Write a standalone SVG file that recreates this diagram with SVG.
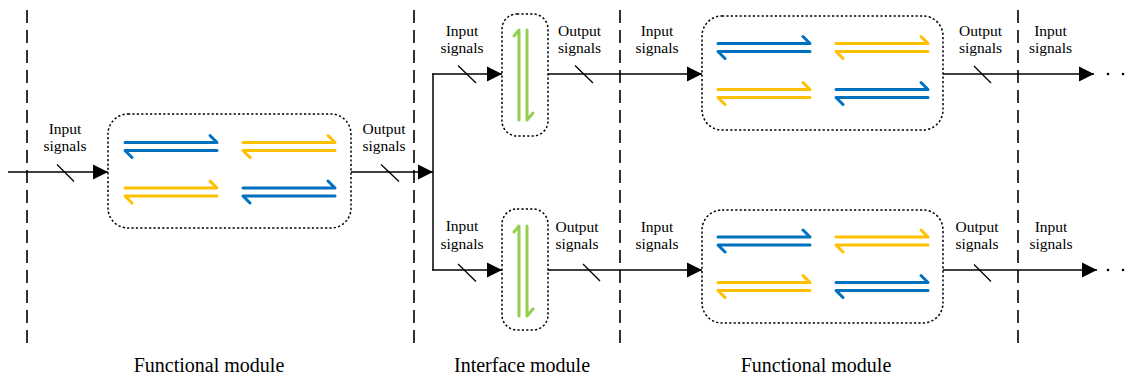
<svg xmlns="http://www.w3.org/2000/svg" xmlns:xlink="http://www.w3.org/1999/xlink" width="1127" height="377" viewBox="0 0 1127 377">
<style>
.bg{fill:#fff}
.div{stroke:#000;stroke-width:1.6;stroke-dasharray:13 7;fill:none}
.box{fill:none;stroke:#000;stroke-width:1.5;stroke-dasharray:2.2 2.2}
.ln{stroke:#000;stroke-width:1.5;fill:none}
.sl{stroke:#000;stroke-width:1.3}
.hp{fill:none;stroke-width:3;stroke-linecap:round;stroke-linejoin:round}
.blue{stroke:#0070C0}
.yel{stroke:#FFC000}
.grn{stroke:#92D050}
.lbl{font-family:"Liberation Serif","Times New Roman",serif;font-size:15.5px;fill:#000;text-anchor:middle}
.mod{font-family:"Liberation Serif","Times New Roman",serif;font-size:20px;fill:#000;text-anchor:middle}
</style>
<defs>
<marker id="ah" markerUnits="userSpaceOnUse" viewBox="0 0 16 16" markerWidth="16" markerHeight="16" refX="15" refY="8" orient="auto">
<path d="M0,0.5 L15,8 L0,15.5 z" fill="#000"/>
</marker>
<path id="eq" d="M0,0 H92 L85,-7 M92,8 H0 L7,15"/>
<path id="veq" d="M0,90 V0 L-5,6 M8,0 V90 L14,83"/>
</defs>
<rect class="bg" x="0" y="0" width="1127" height="377"/>

<g id="dividers">
<line class="div" x1="27" y1="10" x2="27" y2="345"/>
<line class="div" x1="414" y1="10" x2="414" y2="345"/>
<line class="div" x1="620" y1="10" x2="620" y2="345"/>
<line class="div" x1="1018" y1="10" x2="1018" y2="345"/>
</g>

<g id="func-left">
<rect class="box" x="108" y="114" width="243" height="114" rx="20"/>
<use xlink:href="#eq" class="hp blue" x="125" y="142.5"/>
<use xlink:href="#eq" class="hp yel" x="243" y="142.5"/>
<use xlink:href="#eq" class="hp yel" x="125" y="188"/>
<use xlink:href="#eq" class="hp blue" x="243" y="188"/>
</g>

<g id="iface-top">
<rect class="box" x="502" y="14" width="46" height="122" rx="15"/>
<use xlink:href="#veq" class="hp grn" x="519" y="30"/>
</g>

<g id="iface-bottom">
<rect class="box" x="502" y="209" width="46" height="121" rx="15"/>
<use xlink:href="#veq" class="hp grn" x="519" y="226"/>
</g>

<g id="func-top-right">
<rect class="box" x="702" y="16" width="241" height="114" rx="20"/>
<use xlink:href="#eq" class="hp blue" x="718" y="43.5"/>
<use xlink:href="#eq" class="hp yel" x="836" y="43.5"/>
<use xlink:href="#eq" class="hp yel" x="718" y="89.5"/>
<use xlink:href="#eq" class="hp blue" x="836" y="89.5"/>
</g>

<g id="func-bottom-right">
<rect class="box" x="702" y="210" width="241" height="113" rx="20"/>
<use xlink:href="#eq" class="hp blue" x="718" y="237"/>
<use xlink:href="#eq" class="hp yel" x="836" y="237"/>
<use xlink:href="#eq" class="hp yel" x="718" y="282.5"/>
<use xlink:href="#eq" class="hp blue" x="836" y="282.5"/>
</g>

<g id="connectors">
<line class="ln" x1="8" y1="172" x2="108" y2="172" marker-end="url(#ah)"/>
<line class="ln" x1="351" y1="172" x2="433" y2="172" marker-end="url(#ah)"/>
<line class="ln" x1="433" y1="73.3" x2="433" y2="270.7"/>
<line class="ln" x1="432.3" y1="74" x2="502" y2="74" marker-end="url(#ah)"/>
<line class="ln" x1="432.3" y1="270" x2="502" y2="270" marker-end="url(#ah)"/>
<line class="ln" x1="548" y1="74" x2="702" y2="74" marker-end="url(#ah)"/>
<line class="ln" x1="548" y1="270" x2="702" y2="270" marker-end="url(#ah)"/>
<line class="ln" x1="943" y1="74" x2="1094" y2="74" marker-end="url(#ah)"/>
<line class="ln" x1="943" y1="270" x2="1097" y2="270" marker-end="url(#ah)"/>
<line class="sl" x1="57" y1="164.5" x2="74" y2="181.5"/>
<line class="sl" x1="381" y1="164.5" x2="399" y2="181.5"/>
<line class="sl" x1="458" y1="65.5" x2="476" y2="83"/>
<line class="sl" x1="575" y1="65.5" x2="593" y2="83"/>
<line class="sl" x1="974" y1="66" x2="991" y2="83"/>
<line class="sl" x1="458" y1="264" x2="476" y2="281.5"/>
<line class="sl" x1="583" y1="264" x2="600" y2="281"/>
<line class="sl" x1="974" y1="264.5" x2="991" y2="281.5"/>
<circle cx="1108" cy="74" r="1.3" fill="#000"/>
<circle cx="1123" cy="74" r="1.3" fill="#000"/>
<circle cx="1108" cy="270" r="1.3" fill="#000"/>
<circle cx="1123" cy="270" r="1.3" fill="#000"/>
</g>

<g id="labels">
<text class="lbl" x="65" y="134">Input</text>
<text class="lbl" x="65" y="151">signals</text>
<text class="lbl" x="384" y="134">Output</text>
<text class="lbl" x="384" y="151">signals</text>
<text class="lbl" x="462" y="36">Input</text>
<text class="lbl" x="462" y="53">signals</text>
<text class="lbl" x="579.5" y="36">Output</text>
<text class="lbl" x="579.5" y="53">signals</text>
<text class="lbl" x="657" y="36">Input</text>
<text class="lbl" x="657" y="53">signals</text>
<text class="lbl" x="980.5" y="36">Output</text>
<text class="lbl" x="980.5" y="53">signals</text>
<text class="lbl" x="1050.5" y="36">Input</text>
<text class="lbl" x="1050.5" y="53">signals</text>
<text class="lbl" x="462" y="231">Input</text>
<text class="lbl" x="462" y="249">signals</text>
<text class="lbl" x="577" y="232">Output</text>
<text class="lbl" x="577" y="249">signals</text>
<text class="lbl" x="657" y="232">Input</text>
<text class="lbl" x="657" y="249">signals</text>
<text class="lbl" x="977" y="232">Output</text>
<text class="lbl" x="977" y="249">signals</text>
<text class="lbl" x="1051" y="232">Input</text>
<text class="lbl" x="1051" y="249">signals</text>
<text class="mod" x="209" y="372">Functional module</text>
<text class="mod" x="522" y="372">Interface module</text>
<text class="mod" x="816" y="372">Functional module</text>
</g>
</svg>
